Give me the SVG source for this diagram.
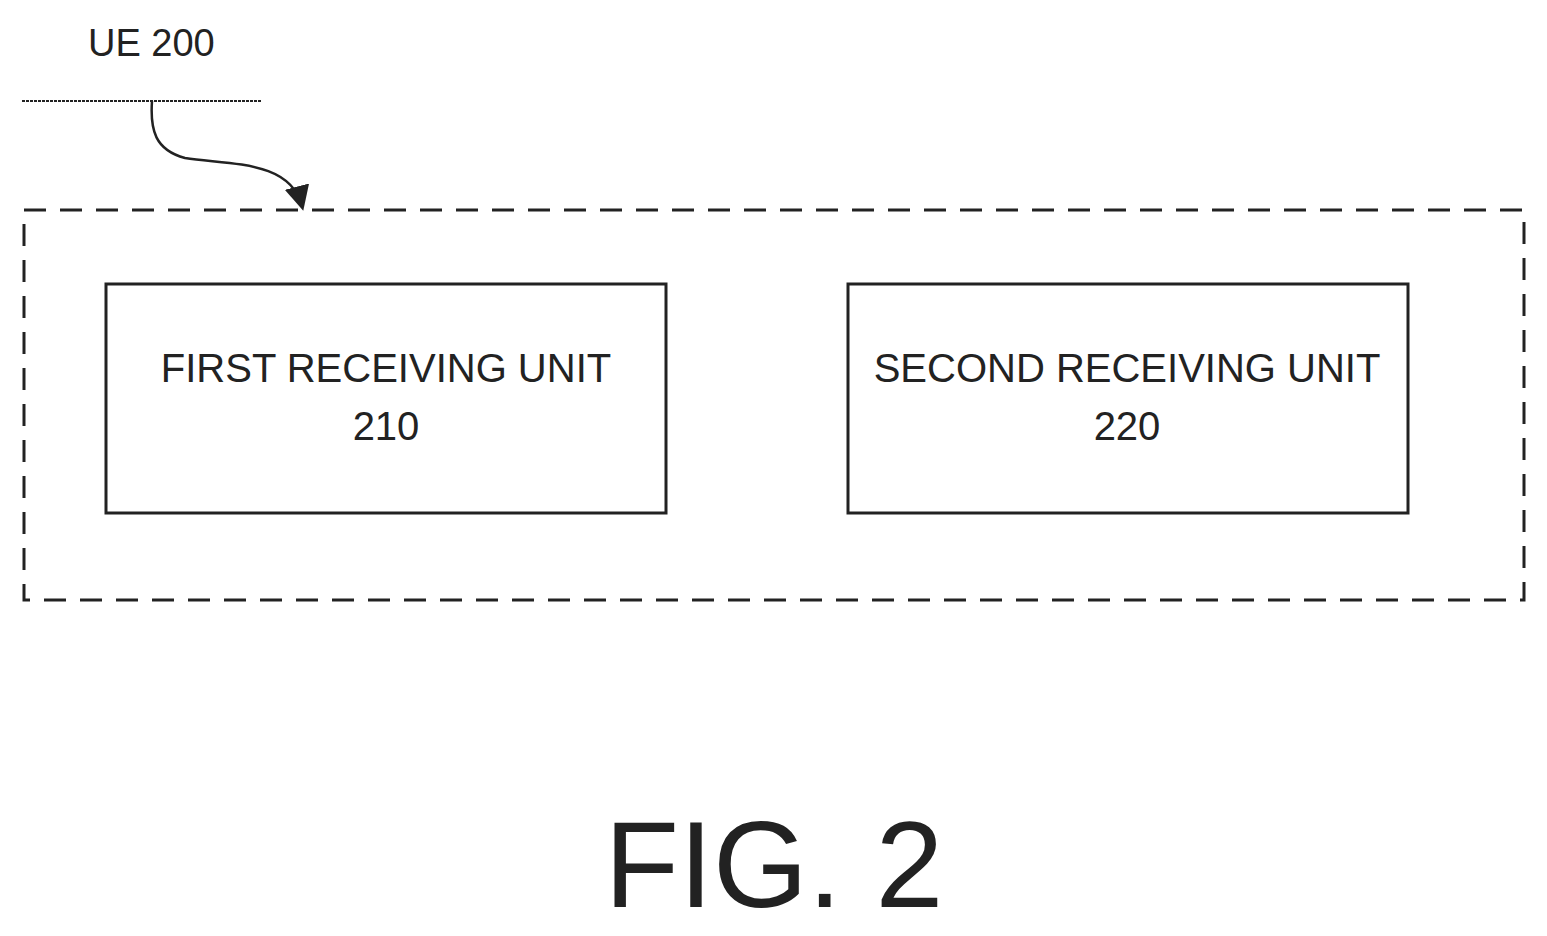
<svg xmlns="http://www.w3.org/2000/svg" width="1547" height="936" viewBox="0 0 1547 936">
<style>
text{font-family:"Liberation Sans",Arial,sans-serif;fill:#222}
.box{fill:#fff;stroke:#222;stroke-width:3}
.lbl{font-size:40px;text-anchor:middle}
</style>
<defs><marker id="ah" markerWidth="10" markerHeight="10" refX="8" refY="5" orient="auto" markerUnits="strokeWidth"><path d="M0,0 L10,5 L0,10 z" fill="#222"/></marker></defs>
<rect width="1547" height="936" fill="#fff"/>
<g id="ue200">
<text x="88" y="56" font-size="38">UE 200</text>
<line x1="22" y1="101" x2="262" y2="101" stroke="#222" stroke-width="2" stroke-dasharray="3,1"/>
<rect x="24" y="210" width="1500" height="390" fill="none" stroke="#222" stroke-width="3" stroke-dasharray="22,14"/>
</g>
<g id="connectors">
<path d="M152,101 C150,130 155,150 185,158 C230,165 290,160 302,206" fill="none" stroke="#222" stroke-width="2.5" marker-end="url(#ah)"/>
</g>
<g id="unit210">
<rect class="box" x="106" y="284" width="560" height="229"/>
<text class="lbl" x="386" y="382">FIRST RECEIVING UNIT</text>
<text class="lbl" x="386" y="440">210</text>
</g>
<g id="unit220">
<rect class="box" x="848" y="284" width="560" height="229"/>
<text class="lbl" x="1127" y="382">SECOND RECEIVING UNIT</text>
<text class="lbl" x="1127" y="440">220</text>
</g>
<text x="774" y="907" font-size="122" text-anchor="middle">FIG. 2</text>
</svg>
